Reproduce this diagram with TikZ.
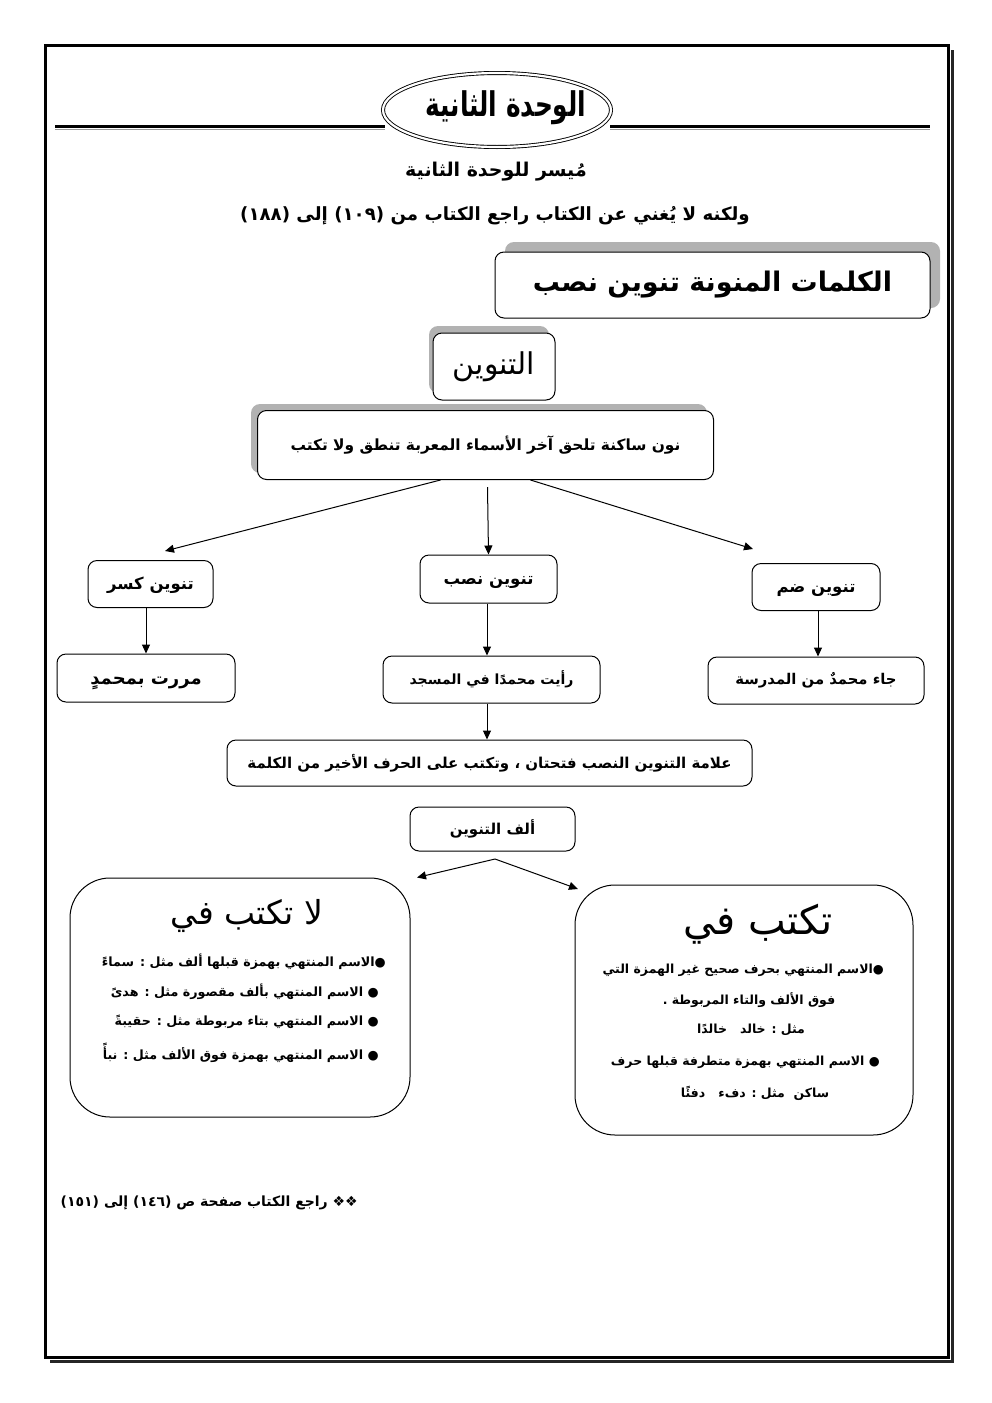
\documentclass[tikz,border=0pt]{standalone}
\usepackage{fontspec}
\usepackage{graphicx}
\setmainfont{DejaVu Sans}
\newfontfamily\ar[Script=Arabic]{DejaVu Sans}
\TeXXeTstate=1
\usetikzlibrary{shapes.geometric,arrows.meta}
\newcommand{\fs}[1]{\fontsize{#1}{#1}\selectfont}
\begin{document}
\begin{tikzpicture}[x=1pt,y=-1pt,
  box/.style={draw, line width=1pt, rounded corners=9pt, fill=white, inner sep=0pt},
  shade/.style={fill=black!30, rounded corners=9pt},
  arr/.style={line width=1pt, -{Triangle[length=9pt,width=8pt]}},
  rule/.style={line width=3pt},
  txt/.style={inner sep=0pt},
  ab/.style={font=\ar\bfseries},
  ar/.style={font=\ar}]
\useasboundingbox (0,0) rectangle (992,1403);
\fill[white] (0,0) rectangle (992,1403);
% page frame with shadow
\draw[line width=3pt, black!85] (952,50) -- (952,1361) -- (50,1361);
\draw[line width=3pt] (45,45) rectangle (948,1357);
% header rules and ellipse
\draw[rule] (55,126) -- (385,126);
\draw[rule] (610,126) -- (930,126);
\draw[black!40, line width=1pt] (55,129) -- (385,129);
\draw[black!40, line width=1pt] (610,129) -- (930,129);
\node[ellipse, draw, fill=white, line width=0.9pt, double, double distance=2.2pt, minimum width=228pt, minimum height=74pt] (unit) at (497,110) {};
\node[txt, ab] (unitT) at (506,108) {\scalebox{0.73}[1]{\fs{34}\beginR الوحدة الثانية\endR}};
% subtitles
\node[txt, ab] (sub1) at (496,172) {\fs{19}\beginR مُيسر للوحدة الثانية\endR};
\node[txt, ab] (sub2) at (495,216) {\fs{18.2}\beginR ولكنه لا يُغني عن الكتاب راجع الكتاب من \beginL(١٠٩)\endL{} إلى \beginL(١٨٨)\endL\endR};
% title box
\fill[shade] (505,242) rectangle (940,308);
\node[box, ab, minimum width=435pt, minimum height=66pt] (kalimat) at (712.5,285) {\fs{27}\beginR الكلمات المنونة تنوين نصب\endR};
% tanween box
\fill[shade] (429,326) rectangle (549,393);
\node[box, ar, minimum width=122pt, minimum height=67pt] (tanween) at (494,366.5) {\fs{30}\beginR التنوين\endR};
% definition box
\fill[shade] (251,404) rectangle (707,473);
\node[box, ab, minimum width=456pt, minimum height=69pt] (def) at (485.5,445) {\fs{15.4}\beginR نون ساكنة تلحق آخر الأسماء المعربة تنطق ولا تكتب\endR};
% three kinds
\node[box, ab, minimum width=125pt, minimum height=47pt] (kasr) at (150.5,584) {\raisebox{-5pt}[0pt][0pt]{\fs{16.5}\beginR تنوين كسر\endR}};
\node[box, ab, minimum width=137pt, minimum height=48pt] (nasb) at (488.5,579) {\raisebox{-5pt}[0pt][0pt]{\fs{16.5}\beginR تنوين نصب\endR}};
\node[box, ab, minimum width=128pt, minimum height=47pt] (damm) at (816,587) {\raisebox{-5pt}[0pt][0pt]{\fs{16.5}\beginR تنوين ضم\endR}};
\coordinate (kasrIn) at (165,551);
\coordinate (dammIn) at (753,549);
\draw[arr] ([xshift=-45pt]def.south) -- (kasrIn);
\draw[arr] ([xshift=2pt,yshift=-7pt]def.south) -- (nasb.north);
\draw[arr] ([xshift=45pt]def.south) -- (dammIn);
% examples
\node[box, ab, minimum width=178pt, minimum height=48pt] (exK) at (146,678) {\raisebox{-6pt}[0pt][0pt]{\fs{18}\beginR مررت بمحمدٍ\endR}};
\node[box, ab, minimum width=217pt, minimum height=47pt] (exN) at (491.5,679.5) {\fs{14}\beginR رأيت محمدًا في المسجد\endR};
\node[box, ab, minimum width=216pt, minimum height=47pt] (exD) at (816,680.5) {\fs{14.8}\beginR جاء محمدٌ من المدرسة\endR};
\draw[arr] (kasr.south -| 146,0) -- (exK.north -| 146,0);
\draw[arr] (nasb.south -| 487,0) -- (exN.north -| 487,0);
\draw[arr] (damm.south -| 818,0) -- (exD.north -| 818,0);
% sign box
\node[box, ab, minimum width=525pt, minimum height=46pt] (sign) at (489.5,763) {\fs{15}\beginR علامة التنوين النصب فتحتان ، وتكتب على الحرف الأخير من الكلمة\endR};
\draw[arr] (exN.south -| 487,0) -- (sign.north -| 487,0);
% alif box
\node[box, ab, minimum width=165pt, minimum height=44pt] (alif) at (492.5,829) {\fs{15}\beginR ألف التنوين\endR};
\coordinate (split) at (495,859);
% big boxes
\node[box, rounded corners=40pt, minimum width=340pt, minimum height=239pt] (la) at (240,997.5) {};
\node[box, rounded corners=40pt, minimum width=338pt, minimum height=250pt] (yes) at (744,1010) {};
\draw[arr] (split) -- (la.north east -| 417,0) ;
\draw[arr] (split) -- (578,889);
\node[txt, ar] (laT) at (247,916) {\fs{33}\beginR لا تكتب في\endR};
\node[txt, ab, anchor=east] (la1) at (386,962) {\fs{12.7}\beginR ●الاسم المنتهي بهمزة قبلها ألف مثل : سماءً\endR};
\node[txt, ab, anchor=east] (la2) at (379,992) {\fs{12.7}\beginR ●  الاسم المنتهي بألف مقصورة مثل : هدىً\endR};
\node[txt, ab, anchor=east] (la3) at (379,1022) {\fs{12.7}\beginR ●  الاسم المنتهي بتاء مربوطة مثل : حقيبةً\endR};
\node[txt, ab, anchor=east] (la4) at (379,1053) {\fs{12.7}\beginR ●  الاسم المنتهي بهمزة فوق الألف مثل : نبأً\endR};
\node[txt, ar] (yesT) at (758,924) {\fs{40}\beginR تكتب في\endR};
\node[txt, ab, anchor=east] (y1) at (884,970) {\fs{12.5}\beginR ●الاسم المنتهي بحرف صحيح غير الهمزة التي\endR};
\node[txt, ab] (y2) at (749,1000) {\fs{12.5}\beginR فوق الألف والتاء المربوطة .\endR};
\node[txt, ab] (y3) at (751,1030) {\fs{12.5}\beginR مثل : خالد \ \ خالدًا\endR};
\node[txt, ab, anchor=east] (y4) at (880,1062) {\fs{12.5}\beginR ●  الاسم المنتهي بهمزة متطرفة قبلها حرف\endR};
\node[txt, ab] (y5) at (755,1093) {\fs{12.5}\beginR ساكن \ مثل : دفء \ \ دفئًا\endR};
% footer
\node[txt, ab, anchor=east] (foot) at (358,1203) {\fs{14}\beginR ❖❖ راجع الكتاب صفحة ص \beginL(١٤٦)\endL{} إلى \beginL(١٥١)\endL\endR};
\end{tikzpicture}
\end{document}
